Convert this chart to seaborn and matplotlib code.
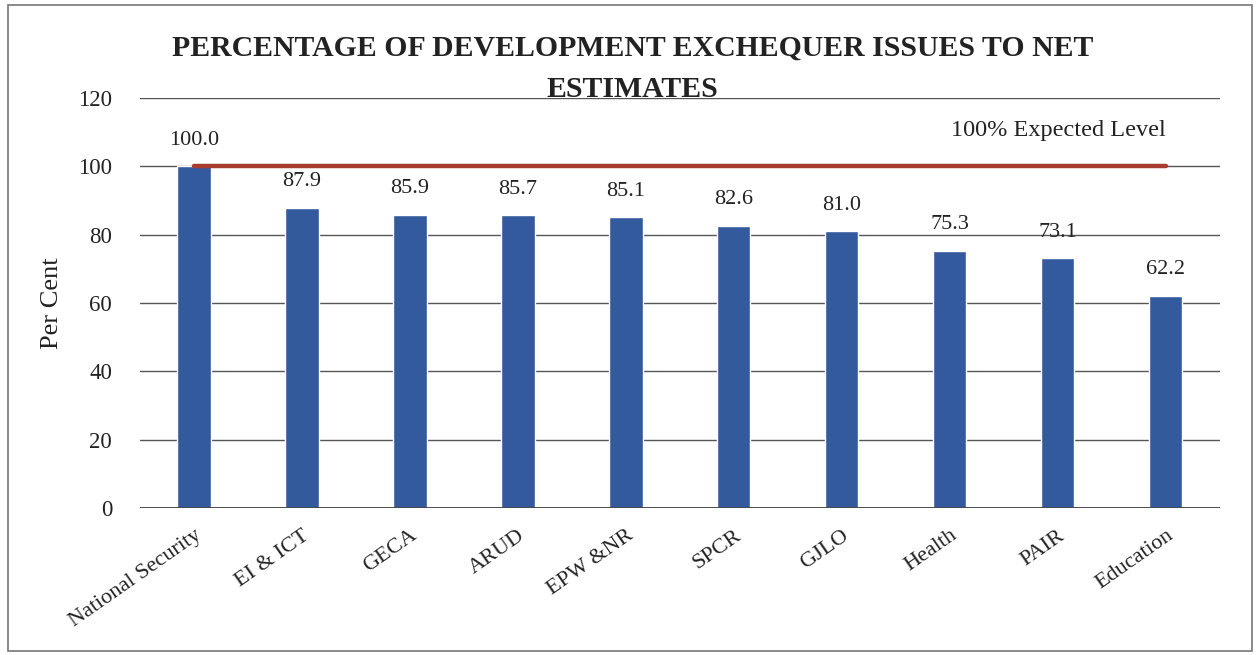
import numpy as np
import matplotlib
matplotlib.use("Agg")
import matplotlib.pyplot as plt
import seaborn as sns
from matplotlib.patches import Rectangle

# data
sectors = ["National Security", "EI & ICT", "GECA", "ARUD", "EPW &NR",
           "SPCR", "GJLO", "Health", "PAIR", "Education"]
pct_issued = [100.0, 87.9, 85.9, 85.7, 85.1, 82.6, 81.0, 75.3, 73.1, 62.2]
expected_level = [100] * len(sectors)
y_ticks = [0, 20, 40, 60, 80, 100, 120]

BAR_COLOR = "#345A9E"
LINE_COLOR = "#A83C2E"
TEXT_COLOR = "#222222"

sns.set_style("white")
plt.rcParams["font.family"] = ["Liberation Serif", "DejaVu Serif"]

fig = plt.figure(figsize=(12.6, 6.55), dpi=100)
ax = fig.add_axes([0.111, 0.2244, 0.857, 0.6259])

sns.barplot(x=sectors, y=pct_issued, color=BAR_COLOR, width=0.31,
            saturation=1, ax=ax)
ax.bar_label(ax.containers[0], fmt="%.1f", padding=12, fontsize=16,
             color=TEXT_COLOR)

# 100% expected level line
ax.plot(np.arange(len(sectors)), expected_level, color=LINE_COLOR, lw=3.2,
        solid_capstyle="round", zorder=3)
ax.text(len(sectors) - 1, 110.6, "100% Expected Level", ha="right",
        va="center", fontsize=17.5, color=TEXT_COLOR)

ax.set_ylim(0, 120)
ax.set_xlim(-0.5, len(sectors) - 0.5)
ax.set_yticks(y_ticks)
ax.yaxis.grid(True, color="#555555", lw=1.0)
ax.set_axisbelow(True)
for s in ax.spines.values():
    s.set_visible(False)
ax.axhline(0, color="#444444", lw=1.3, zorder=1)

ax.tick_params(axis="y", length=0, pad=20, labelsize=16.5, colors=TEXT_COLOR)
ax.tick_params(axis="x", length=0, pad=13, labelsize=16, colors=TEXT_COLOR)
plt.setp(ax.get_xticklabels(), rotation=35, ha="right", rotation_mode="anchor")
ax.set_ylabel("Per Cent", fontsize=19, color=TEXT_COLOR, labelpad=11)
ax.set_xlabel("")

fig.text(0.502, 1 - 35 / 655,
         "PERCENTAGE OF DEVELOPMENT EXCHEQUER ISSUES TO NET\nESTIMATES",
         ha="center", va="top", fontsize=21.4, fontweight="bold",
         color=TEXT_COLOR, linespacing=1.65)

# thin frame around the whole chart
fig.patches.append(Rectangle((0.006, 0.006), 0.988, 0.986,
                             transform=fig.transFigure, fill=False,
                             edgecolor="#777777", lw=1.2))

fig.savefig("out.png", dpi=100)
